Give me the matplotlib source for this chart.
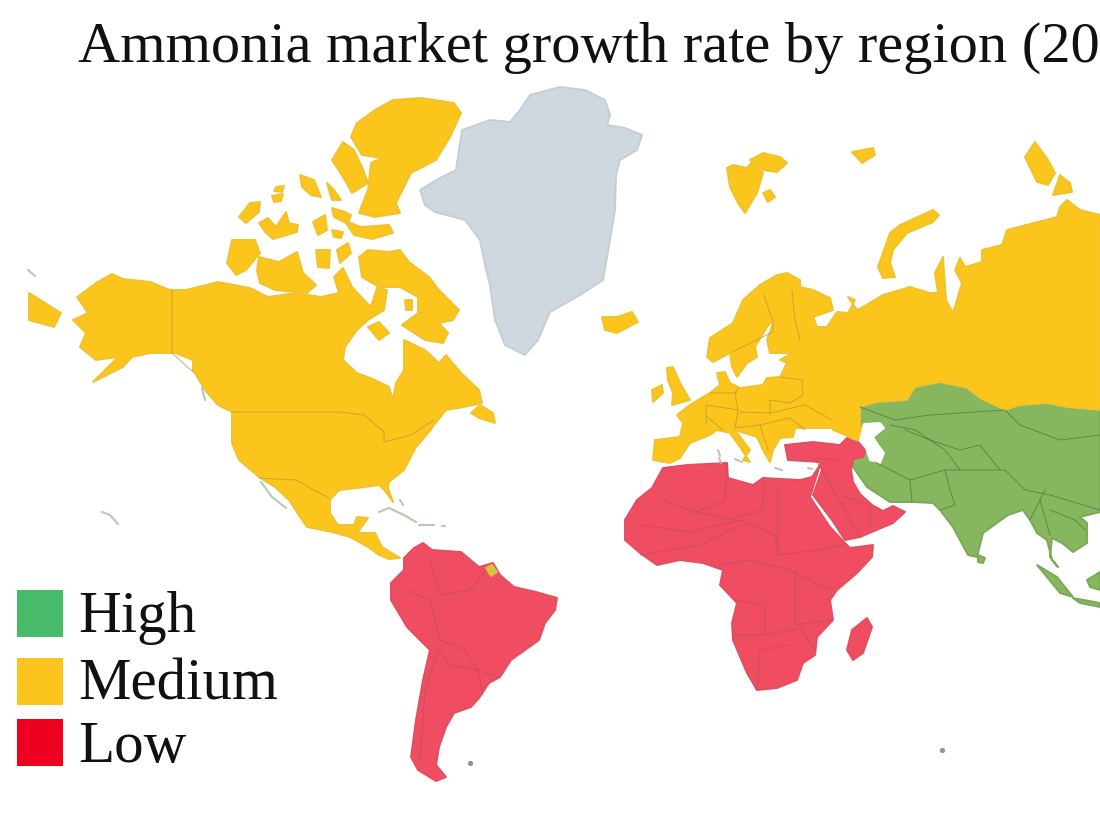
import matplotlib.pyplot as plt
from matplotlib.patches import Rectangle

TITLE = "Ammonia market growth rate by region (20"
LEVELS = ["High", "Medium", "Low"]
LEVEL_COLORS = ["#48BB6B", "#FBC41F", "#EE0020"]

# outlines in picture pixels (x, y)
NORTH_AMERICA = [(80, 295), (96, 283), (112, 274), (123, 279), (150, 282), (170, 290), (186, 290), (218, 282),
                 (250, 288), (268, 297), (296, 293), (321, 297), (339, 293), (334, 277), (343, 268), (352, 287),
                 (364, 300), (371, 307), (377, 288), (387, 290), (384, 310), (368, 320), (357, 330), (345, 347),
                 (343, 360), (357, 373), (375, 380), (389, 387), (393, 400), (396, 383), (404, 370), (404, 340),
                 (425, 350), (439, 363), (446, 355), (461, 373), (479, 390), (482, 403), (464, 407), (446, 410),
                 (434, 425), (429, 432), (416, 447), (404, 470), (389, 482), (388, 488), (393, 502), (386, 492),
                 (379, 485), (357, 488), (339, 490), (330, 500), (330, 513), (338, 525), (354, 525), (357, 517),
                 (368, 518), (357, 533), (375, 533), (382, 547), (400, 558), (389, 559), (379, 555), (368, 547),
                 (350, 537), (332, 532), (307, 527), (300, 517), (289, 500), (275, 487), (259, 477), (239, 460),
                 (232, 443), (232, 412), (218, 405), (205, 390), (193, 370), (193, 360), (175, 353), (150, 353),
                 (132, 357), (123, 367), (93, 382), (118, 357), (96, 360), (80, 347), (86, 333), (73, 320),
                 (88, 313), (77, 297)]
ARCTIC_CANADA = [
    [(393, 100), (421, 98), (454, 103), (461, 113), (450, 137), (436, 160), (411, 173), (396, 203), (400, 213),
     (375, 217), (359, 213), (368, 190), (371, 163), (382, 158), (362, 155), (351, 137), (357, 123), (375, 110)],
    [(343, 142), (354, 150), (362, 167), (368, 183), (352, 193), (343, 177), (332, 160)],
    [(300, 175), (314, 180), (321, 197), (311, 195), (302, 187)],
    [(327, 183), (334, 190), (341, 200), (332, 200)],
    [(276, 187), (284, 186), (282, 192), (274, 191)],
    [(272, 196), (283, 194), (281, 201), (274, 202)],
    [(239, 217), (250, 203), (260, 202), (259, 212), (246, 223)],
    [(259, 223), (268, 218), (276, 227), (286, 212), (289, 223), (298, 225), (297, 232), (273, 239), (266, 233)],
    [(313, 222), (325, 215), (327, 230), (318, 235)],
    [(332, 208), (345, 212), (351, 215), (348, 222), (361, 227), (389, 225), (393, 233), (372, 239), (354, 235),
     (346, 223), (334, 217)],
    [(332, 230), (343, 232), (341, 238), (334, 237)],
    [(232, 240), (255, 240), (260, 253), (246, 270), (236, 275), (227, 263)],
    [(259, 257), (279, 262), (297, 252), (303, 273), (316, 285), (307, 293), (275, 290), (260, 283), (257, 270)],
    [(316, 250), (330, 250), (329, 268), (318, 267)],
    [(337, 250), (348, 243), (351, 253), (340, 263)],
    [(359, 257), (368, 250), (389, 252), (400, 250), (409, 262), (429, 277), (439, 290), (459, 310), (453, 320),
     (439, 323), (448, 333), (443, 343), (425, 340), (402, 325), (418, 313), (418, 297), (400, 287), (379, 287),
     (362, 277)],
    [(368, 327), (379, 322), (389, 333), (379, 340)],
    [(405, 300), (412, 300), (412, 310), (406, 310)],
    [(471, 413), (480, 405), (493, 413), (495, 423), (479, 418)],
    [(29, 293), (61, 313), (54, 327), (29, 320)],
]
EUROPE_RUSSIA = [(1100, 215), (1080, 210), (1067, 200), (1060, 207), (1057, 217), (1007, 230), (1002, 245),
                 (982, 250), (982, 262), (965, 267), (960, 258), (955, 270), (962, 283), (953, 313), (946, 300),
                 (943, 257), (935, 273), (938, 293), (930, 293), (910, 287), (883, 295), (863, 307), (857, 310),
                 (848, 297), (855, 300), (848, 313), (837, 312), (827, 327), (817, 327), (813, 317), (833, 310),
                 (830, 298), (813, 290), (800, 287), (800, 280), (787, 273), (777, 275), (760, 285), (743, 300),
                 (733, 323), (710, 338), (707, 357), (713, 362), (730, 353), (732, 367), (737, 377), (747, 363),
                 (757, 357), (755, 347), (767, 327), (775, 318), (767, 340), (770, 353), (792, 353), (780, 360),
                 (787, 363), (780, 377), (767, 378), (763, 385), (740, 388), (730, 383), (725, 372), (717, 373),
                 (720, 385), (710, 393), (703, 397), (690, 405), (677, 415), (683, 423), (680, 437), (655, 440),
                 (653, 460), (670, 463), (680, 458), (690, 443), (710, 435), (717, 430), (730, 433), (740, 447),
                 (750, 462), (743, 460), (750, 450), (735, 430), (757, 437), (763, 450), (770, 462), (773, 450),
                 (780, 438), (793, 437), (795, 428), (833, 428), (833, 430), (857, 440), (863, 440), (862, 430),
                 (860, 423), (860, 407), (877, 402), (907, 400), (915, 387), (940, 382), (967, 388), (980, 398),
                 (1005, 410), (1020, 405), (1047, 403), (1067, 407), (1100, 410)]
EUROPE_ISLANDS = [
    [(667, 368), (673, 367), (680, 383), (690, 400), (672, 405), (673, 393), (668, 380)],
    [(652, 390), (662, 385), (663, 393), (653, 402)],
    [(602, 317), (617, 317), (632, 312), (638, 322), (617, 333), (605, 330)],
    [(727, 168), (733, 165), (747, 168), (752, 162), (763, 173), (757, 193), (745, 213), (738, 203), (730, 187)],
    [(750, 160), (763, 153), (780, 157), (787, 163), (777, 172), (763, 170)],
    [(763, 193), (770, 190), (775, 197), (768, 202)],
    [(852, 152), (873, 148), (875, 155), (862, 163)],
    [(878, 267), (890, 233), (900, 225), (933, 210), (939, 215), (933, 222), (907, 233), (893, 250), (890, 263),
     (895, 277), (883, 278)],
    [(1025, 157), (1035, 142), (1048, 160), (1055, 173), (1048, 185), (1037, 182)],
    [(1053, 195), (1060, 175), (1070, 183), (1072, 192)],
]
ASIA = [(860, 407), (877, 402), (907, 400), (915, 387), (940, 382), (967, 388), (980, 398), (1005, 410),
        (1020, 405), (1047, 403), (1067, 407), (1100, 410), (1100, 512), (1080, 517), (1087, 523), (1087, 543),
        (1073, 552), (1062, 543), (1052, 538), (1050, 557), (1058, 567), (1052, 560), (1047, 540), (1037, 533),
        (1030, 520), (1023, 510), (1008, 515), (983, 533), (977, 557), (968, 555), (953, 527), (940, 510),
        (933, 503), (913, 502), (890, 502), (867, 487), (853, 467), (853, 450), (860, 430)]
ASIA_ISLANDS = [
    [(978, 555), (985, 558), (983, 563), (978, 562)],
    [(1037, 565), (1057, 577), (1073, 597), (1060, 593), (1047, 577)],
    [(1073, 598), (1100, 603), (1100, 607), (1080, 603)],
    [(1087, 580), (1100, 572), (1100, 590), (1090, 587)],
]
CASPIAN = [(862, 432), (864, 424), (880, 423), (884, 428), (873, 437), (878, 445), (884, 453), (880, 463),
           (870, 460), (866, 448), (860, 441)]
SOUTH_AMERICA = [(404, 558), (414, 548), (423, 543), (432, 550), (461, 552), (479, 567), (493, 563), (500, 575),
                 (514, 587), (536, 592), (557, 598), (555, 610), (545, 623), (539, 640), (511, 660), (500, 677),
                 (489, 683), (479, 698), (471, 707), (454, 713), (446, 727), (439, 747), (436, 765), (446, 777),
                 (436, 781), (418, 770), (411, 757), (416, 720), (423, 680), (430, 650), (407, 627), (391, 600),
                 (391, 583), (404, 570)]
AFRICA = [(663, 468), (687, 465), (727, 463), (728, 478), (753, 485), (763, 478), (800, 480), (812, 477),
          (820, 465), (810, 497), (830, 527), (845, 543), (850, 548), (873, 545), (872, 557), (857, 573),
          (837, 590), (830, 600), (833, 620), (817, 637), (815, 655), (803, 663), (797, 680), (777, 688),
          (757, 690), (747, 673), (733, 640), (732, 623), (737, 603), (720, 585), (723, 570), (703, 563),
          (680, 560), (657, 565), (640, 553), (625, 540), (625, 520), (637, 500), (652, 488)]
MIDDLE_EAST = [(785, 445), (813, 442), (840, 445), (847, 438), (867, 447), (863, 457), (853, 459), (851, 470),
               (853, 482), (860, 494), (872, 505), (883, 511), (893, 506), (905, 512), (893, 523), (860, 537),
               (845, 540), (832, 520), (813, 495), (822, 470), (820, 462), (788, 460)]
MADAGASCAR = [(867, 618), (872, 627), (863, 653), (853, 660), (847, 650), (852, 630)]
GREENLAND = [(420, 190), (440, 178), (456, 170), (462, 130), (490, 120), (510, 122), (520, 110), (530, 95),
             (560, 87), (585, 90), (605, 100), (610, 115), (607, 125), (625, 128), (642, 135), (637, 150),
             (620, 160), (616, 175), (615, 210), (610, 240), (603, 280), (580, 295), (550, 312), (538, 340),
             (525, 355), (505, 345), (495, 320), (490, 285), (485, 265), (480, 240), (465, 220), (435, 212),
             (425, 205)]
GUIANA = [(486, 568), (492, 565), (497, 572), (491, 576)]
SPECKS = [(942, 750), (470, 763)]
# thin island chains, drawn as short strokes
CHAINS = [
    [(102, 512), (110, 515), (118, 524)],
    [(202, 388), (205, 400)],
    [(261, 482), (272, 497), (286, 508)],
    [(379, 512), (389, 508), (404, 515), (416, 522)],
    [(419, 525), (434, 525)],
    [(442, 526), (445, 526)],
    [(400, 500), (403, 505)],
    [(718, 450), (720, 456)],
    [(719, 458), (721, 463)],
    [(735, 459), (742, 462)],
    [(775, 468), (782, 470)],
    [(808, 468), (812, 469)],
    [(28, 270), (35, 276)],
]

MEDIUM_BORDERS = [
    [(172, 290), (172, 353), (193, 372)],
    [(232, 412), (339, 412), (364, 415), (384, 432), (384, 442), (411, 435), (434, 420)],
    [(259, 478), (296, 480), (314, 490), (329, 498)],
    [(764, 295), (773, 322), (773, 332), (732, 352)],
    [(792, 290), (795, 320), (800, 340)],
    [(780, 377), (802, 380), (803, 395), (790, 403), (770, 400)],
    [(710, 393), (736, 393), (738, 388)],
    [(735, 392), (738, 410), (706, 405), (706, 425)],
    [(770, 400), (770, 413), (740, 412)],
    [(770, 413), (805, 405), (832, 420)],
    [(760, 425), (790, 418), (805, 430)],
    [(738, 410), (735, 428), (760, 425), (768, 450)],
    [(706, 416), (723, 430)],
]
HIGH_BORDERS = [
    [(860, 407), (895, 420), (930, 415), (1005, 410), (1020, 425), (1060, 440), (1100, 435)],
    [(890, 425), (915, 430), (945, 450), (960, 470), (1005, 470)],
    [(905, 430), (930, 440), (960, 450), (980, 445), (1000, 470)],
    [(912, 502), (910, 480), (945, 470), (960, 470)],
    [(875, 462), (910, 480)],
    [(950, 490), (945, 470)],
    [(950, 490), (955, 505), (940, 510)],
    [(1005, 470), (1025, 490), (1050, 495), (1100, 510)],
    [(1045, 490), (1030, 520)],
    [(1040, 500), (1050, 535)],
    [(1050, 510), (1075, 520), (1085, 530)],
]
LOW_BORDERS = [
    [(438, 650), (450, 665), (478, 670), (483, 695)],
    [(407, 590), (430, 600), (440, 640), (465, 650)],
    [(430, 560), (440, 595), (470, 590), (486, 570)],
    [(465, 650), (478, 670), (500, 678)],
    [(438, 650), (425, 690), (420, 760)],
    [(663, 500), (690, 510), (730, 520), (762, 510), (765, 480)],
    [(727, 463), (725, 500), (690, 515)],
    [(640, 525), (690, 532), (740, 520), (775, 535), (778, 550)],
    [(778, 485), (778, 555), (820, 550), (845, 545)],
    [(640, 555), (700, 545), (740, 525)],
    [(720, 565), (750, 560), (790, 570), (830, 590)],
    [(795, 570), (795, 625), (832, 620)],
    [(735, 600), (765, 605), (765, 635), (735, 635)],
    [(765, 635), (800, 628), (815, 650)],
    [(757, 690), (760, 650), (790, 645)],
    [(840, 460), (815, 458), (860, 537)],
    [(840, 495), (870, 505), (870, 527)],
]

fig = plt.figure(figsize=(11, 8.26), dpi=100, facecolor="white")
ax = fig.add_axes([0, 0, 1, 1])
ax.set_xlim(0, 1100)
ax.set_ylim(826, 0)
ax.axis("off")


def fill_all(outlines, color, edge):
    for outline in outlines:
        xs, ys = zip(*outline)
        ax.fill(xs, ys, facecolor=color, edgecolor=edge, linewidth=1.4, joinstyle="round")


def draw_lines(lines, color, width=0.7):
    for line in lines:
        xs, ys = zip(*line)
        ax.plot(xs, ys, color=color, linewidth=width, alpha=0.75, solid_capstyle="round")


fill_all([GREENLAND], "#CFD8DF", "#C4CFD5")
fill_all([ASIA] + ASIA_ISLANDS, "#86B65E", "#7CA957")
fill_all([NORTH_AMERICA, EUROPE_RUSSIA] + ARCTIC_CANADA + EUROPE_ISLANDS, "#FBC51C", "#EFC22F")
fill_all([SOUTH_AMERICA, AFRICA, MIDDLE_EAST, MADAGASCAR], "#F04D63", "#E24F60")
fill_all([GUIANA], "#D9C23C", "#D9C23C")
fill_all([CASPIAN], "white", "white")
draw_lines(CHAINS, "#A9B89B", 1.6)
draw_lines(MEDIUM_BORDERS, "#B59A35")
draw_lines(HIGH_BORDERS, "#4F7A45")
draw_lines(LOW_BORDERS, "#B8505C")

spec_x, spec_y = zip(*SPECKS)
ax.scatter(spec_x, spec_y, s=14, color="#8A9499", linewidths=0)

ax.text(78, 62, TITLE, family="Liberation Serif", fontsize=42, color="#111111", va="baseline", ha="left")

# legend
swatch_tops = [590, 658, 719]
label_base = [632, 700, 762]
for level, color, top, base in zip(LEVELS, LEVEL_COLORS, swatch_tops, label_base):
    ax.add_patch(Rectangle((17, top), 46, 47, facecolor=color, edgecolor="none"))
    ax.text(78, base, level, family="Liberation Serif", fontsize=42.5, color="#111111", va="baseline", ha="left")

plt.savefig("out.png", dpi=100, facecolor="white")
plt.close(fig)
